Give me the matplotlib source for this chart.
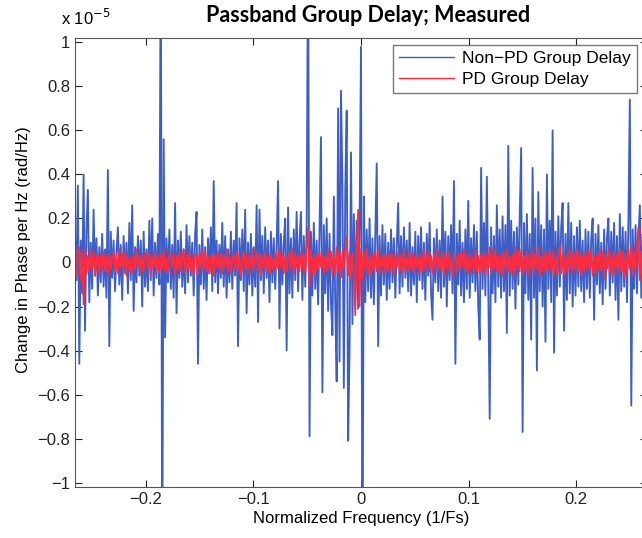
import matplotlib.pyplot as plt
import numpy as np

# group delay values in units of 1e-7 (hundredths of the 1e-5 axis unit)
non_pd = [
    12, -8, 35, -46, 10, -14, 40, -31, 15, 33, -18, 9, -12, 24, -6, 11, -15, 7, -9, 13,
    -11, 6, -16, 42, -38, 14, -7, 10, -13, 5, 16, -10, 8, -17, 12, -5, 9, -14, 18, -8,
    26, -22, 7, -9, 12, -6, 10, -20, 14, -11, 6, -13, 19, -8, 20, -15, 9, -7, 13, -10,
    150, -150, 56, -34, 11, -9, 15, -12, 8, -16, 27, -23, 10, -7, 14, -11, 6, -14, 17, -9,
    12, -6, 9, -15, 13, 23, -46, 8, -10, 15, -12, 7, -17, 11, -5, 16, -13, 37, -9, 10,
    -14, 8, -7, 18, -11, 12, -16, 6, -9, 14, -12, 10, -6, 27, -38, 11, -8, 15, -13, 24,
    -23, 9, -10, 13, -15, 7, -11, 26, -27, 24, -8, 12, -14, 16, -7, 10, -18, 14, -9, 11,
    -12, 8, 37, -30, 13, -10, 9, 20, -40, 25, -14, 11, -16, 15, -8, 23, -13, 10, 23, -17,
    12, -11, 16, 150, -79, 14, -15, 18, -12, 10, -19, 15, 57, -59, 17, -14, 20, -22, 13, -18,
    -33, 30, -20, -54, 70, -45, 78, 36, -57, 33, 69, -81, -39, 50, -28, 22, -17, 19, -21, 16,
    98, -150, 30, -18, 15, -13, 20, -16, 11, -19, 14, 45, -38, 12, -15, 17, -10, 13, -17, 9,
    -12, 15, -9, 11, -16, 8, 27, -14, 12, -11, 16, -7, 10, -13, 18, -15, 7, -10, 14, -18,
    12, -8, 16, -12, 9, -17, 13, -6, 18, -14, -26, 11, -9, 15, -13, 10, -16, 30, -11, 14,
    -20, 12, -8, 17, -14, 37, -46, 13, -10, 19, -15, 9, -18, 15, -12, 28, -16, 11, -9, 17,
    -13, 14, -20, -35, 43, -12, 18, -15, 39, -10, -71, 16, -14, 12, -18, 26, -11, 15, -16, 21,
    -13, 17, -32, 53, -15, 19, -12, 14, -21, 16, -10, 20, 52, -77, 18, -14, 22, -17, 13, -35,
    43, -16, 20, -49, 32, -13, 17, -20, 15, -36, 40, -12, 19, -18, 60, -41, 14, -15, 21, -11,
    16, 27, -31, 13, -17, 27, -14, 18, -20, 12, -15, 16, -11, 19, -13, 10, -18, 15, -12, 14,
    -16, 11, 20, -26, 13, -10, 17, -14, 9, -19, 15, -12, 11, 20, -15, 14, -9, 18, -17, 12,
    -26, 22, -13, 16, -11, 14, -18, 19, 74, -65, 15, -12, 17, -14, 11, 26, -16, 13, -10, 18,
    -12,
]

pd = [
    9, -6, 5, 7, -8, 4, -19, 6, -5, 3, -4, 6, -3, 5, -6, 2, 4, -5, 3, -2,
    5, -4, 3, -6, 4, -3, 2, 5, -4, 3, -5, 6, -2, 4, -3, 5, -6, 3, -4, 2,
    -5, 4, -3, 6, -2, 3, -5, 4, -4, 2, 5, -3, 4, -6, 3, -2, 5, -4, 3, -5,
    4, -3, 6, -4, 2, -5, 3, 5, -2, 4, -6, 3, -3, 5, -4, 2, 6, -5, 3, -3,
    5, -4, 2, -6, 4, 3, -5, 4, -2, 6, -3, 5, -4, 3, -5, 2, 4, -6, 3, -2,
    5, -3, 4, -5, 3, -2, 6, -4, 3, -5, 2, 4, -3, 5, -4, 3, -6, 2, 5, -3,
    4, -5, 3, -2, 6, -4, 2, 5, -3, 4, -6, 3, -2, 5, -4, 3, -5, 4, -3, 2,
    -4, 5, -3, 6, -2, 4, -5, 3, -4, 2, 5, -3, 6, -5, 4, -2, 3, -4, 5, -3,
    4, -5, 6, 16, -11, 5, -4, 3, -6, 4, -3, 5, -2, 4, -5, 3, -4, 6, -3, 5,
    -6, 4, -5, 7, -4, 6, -7, 5, -3, 6, 12, -6, 5, -7, 4, -5, -24, 8, 24, -20,
    6, -7, 5, -4, 6, -5, 3, -6, 4, -3, 5, -4, 6, -5, 3, -2, 4, -5, 3, -4,
    5, -3, 4, -6, 3, -2, 5, -4, 3, -5, 6, -3, 2, -4, 5, -3, 4, -5, 3, -2,
    4, -5, 3, -4, 6, -3, 2, 5, -4, 3, -5, 4, -2, 6, -4, 3, -3, 5, -6, 4,
    -3, 5, -4, 2, -6, 4, 3, -5, 4, -3, 5, -2, 6, -4, 3, -5, 4, -3, 2, -5,
    6, -4, 3, -5, 4, -3, 5, -6, 3, -2, 7, -5, 4, -3, 6, -4, 3, -5, 4, -6,
    5, -3, 6, -4, 3, -5, 4, -6, 7, -3, 5, -4, 6, -5, 3, -4, 5, -6, 4, -3,
    6, -5, 4, -3, 7, -6, 3, -4, 5, -5, 4, -3, 6, -4, 5, -6, 3, -5, 4, 8,
    -5, 4, -6, 3, -4, 6, -3, 5, -5, 4, -3, 6, -4, 5, -6, 3, -4, 5, -3, 6,
    -4, 5, -6, 3, -5, 4, -3, 6, -4, 5, -7, 4, -3, 6, -5, 4, -6, 5, -3, 4,
    -5, 6, -4, 5, -7, 4, -5, 6, -3, 8, -6, 5, -4, 7, 16, -8, 5, -6, 22, -10,
    6,
]

freq = np.linspace(-0.266, 0.266, len(non_pd))
xticks = [-0.2, -0.1, 0, 0.1, 0.2]
yticks = [-1, -0.8, -0.6, -0.4, -0.2, 0, 0.2, 0.4, 0.6, 0.8, 1]

plt.rcParams['font.family'] = ['Liberation Sans', 'DejaVu Sans']

fig = plt.figure(figsize=(6.42, 5.38), dpi=100)
ax = fig.add_axes([75/642, 1 - 487/538, 572/642, 449/538])

ax.plot(freq, np.array(non_pd) / 100, color='#3d5ec6', lw=1.35, label='Non\u2212PD Group Delay')
ax.plot(freq, np.array(pd) / 100, color='#ff2b3f', lw=1.25, label='PD Group Delay')

ax.set_xlim(-0.266, 0.266)
ax.set_ylim(-1.02, 1.02)
ax.set_xticks(xticks)
ax.set_xticklabels(['\u22120.2', '\u22120.1', '0', '0.1', '0.2'])
ax.set_yticks(yticks)
ax.set_yticklabels([('\u2212' + f'{abs(v):g}') if v < 0 else f'{v:g}' for v in yticks])
ax.tick_params(direction='in', top=True, right=True, length=5, labelsize=12, colors='#222222')
for s in ax.spines.values():
    s.set_color('#555555')

ax.set_xlabel('Normalized Frequency (1/Fs)', fontsize=12, labelpad=3)
ax.set_ylabel('Change in Phase per Hz (rad/Hz)', fontsize=12)
ax.yaxis.set_label_coords(-0.077, 0.528)

fig.text(61/642, 1 - 25/538, r'x 10$^{-5}$', fontsize=12, ha='left', va='baseline')
fig.text(368/642, 1 - 16/538, 'Passband Group Delay; Measured', fontsize=15.5,
         fontweight='bold', family='Lato', ha='center', va='center')

leg = ax.legend(loc='upper right', bbox_to_anchor=(637/642, 1 - 45/538),
                bbox_transform=fig.transFigure, fontsize=12.5, frameon=True,
                fancybox=False, edgecolor='#555555', handlelength=3.2,
                borderaxespad=0, borderpad=0.35, labelspacing=0.3, handletextpad=0.45)
leg.get_frame().set_linewidth(1.0)
for h in leg.get_lines():
    h.set_linewidth(1.0)

fig.savefig('out.png', dpi=100)
